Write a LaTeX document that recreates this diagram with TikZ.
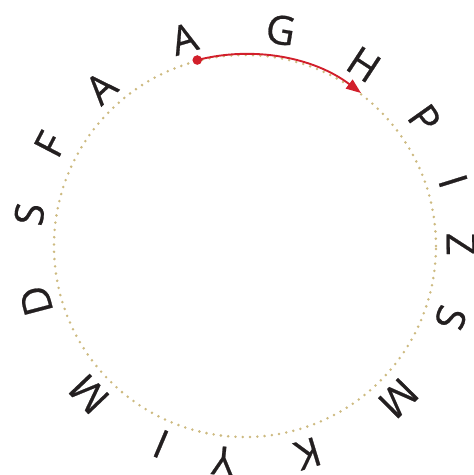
\documentclass[tikz,border=0pt]{standalone}
\usepackage{fontspec}
\setmainfont{Open Sans}[FakeBold=0.6]
\usetikzlibrary{arrows.meta}
\definecolor{dotcol}{HTML}{CDBA80}
\definecolor{arrred}{HTML}{D21F2B}
\definecolor{ink}{HTML}{231F20}
\tikzset{
  letter/.style={inner sep=0pt, text=ink, font=\fontsize{40}{40}\selectfont},
  ring/.style={dotcol, line width=2.8pt, line cap=round, dash pattern=on 0pt off 7.3pt},
  redarrow/.style={arrred, line width=1.9pt, -{Triangle[length=15pt,width=11pt]}}
}
\begin{document}
\begin{tikzpicture}[x=1pt,y=1pt]
\useasboundingbox (-245,-229) rectangle (229,246);
\draw[ring] (0,0) circle[radius=191];
\foreach \t/\a/\r/\n in {A/106.4/216/l1, G/80.6/219/l2, H/56.8/217/l3, P/35.3/220/l4,
  I/17.3/218/l5, Z/0.5/216/l6, S/-19.3/218/l7, M/-44.8/216/l8, K/-73.1/217/l9,
  Y/-95.8/216/l10, I/-113/215/l11, M/-136.5/215/l12, D/-165.3/216/l13,
  S/171.6/218/l14, F/152.5/220/l15, A/132.3/214/l16}
{
  \node[letter, rotate=\a-90] (\n) at (\a:\r) {\t};
}
\coordinate (start) at (104.4:192);
\coordinate (tip) at (52.8:192);
\fill[arrred] (start) circle[radius=4.8];
\draw[redarrow] (start) arc[start angle=104.4, end angle=52.8, radius=192];
\end{tikzpicture}
\end{document}
